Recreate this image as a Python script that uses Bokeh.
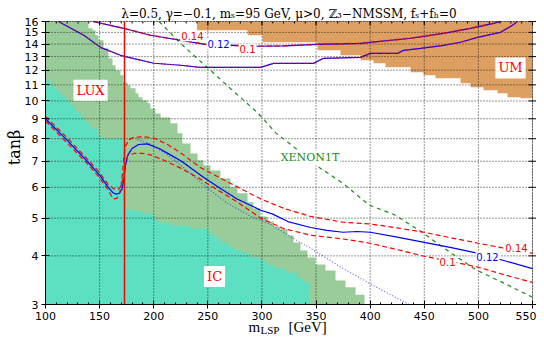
import math
from bokeh.plotting import figure
from bokeh.models import Range1d, FixedTicker, Label, BoxAnnotation
from bokeh.embed import file_html
from bokeh.resources import INLINE

# ---------------- data ----------------
x_ticks = [100, 150, 200, 250, 300, 350, 400, 450, 500, 550]
y_ticks = [3, 4, 5, 6, 7, 8, 9, 10, 11, 12, 13, 14, 15, 16]

# LUX excluded region: column start (GeV) and upper edge (tan beta)
lux_x = [100, 139.7, 143.4, 146.2, 149.0, 153.6, 158.2, 161.9, 164.7, 169.3, 172.1, 175.8,
         178.5, 183.2, 185.9, 189.6, 194.3, 197.0, 201.6, 206.3, 215.5, 222.0, 226.6, 234.0,
         240.5, 246.0, 252.5, 261.7, 270.9, 277.4, 286.7, 292.2, 298.7, 305.1, 310.7, 317.2,
         323.6, 329.2, 335.6, 342.1, 349.5, 358.7, 368.0, 377.2, 386.5]
lux_top = [16, 15.37, 15.19, 14.75, 14.32, 13.65, 12.87, 12.35, 11.99, 11.64, 11.16, 10.97,
           10.78, 10.46, 10.22, 10.04, 9.86, 9.57, 9.29, 9.07, 8.76, 8.26, 7.78, 7.33,
           7.04, 6.83, 6.63, 6.32, 6.0, 5.79, 5.49, 5.29, 5.05, 4.90, 4.76, 4.68,
           4.51, 4.33, 4.13, 3.96, 3.80, 3.67, 3.46, 3.32, 3.18]
lux_end = 394.8

# IceCube excluded region
ic_x = [100, 104.6, 109.2, 113.9, 118.5, 123.1, 127.7, 132.3, 137.0, 141.6, 148.0, 150.8,
        173.0, 176.7, 187.8, 199.8, 203.5, 215.5, 234.0, 250.6, 255.2, 261.7, 269.1, 275.6,
        282.0, 289.4, 298.7, 305.1, 312.5, 321.8, 332.9, 338.0]
ic_top = [11.29, 10.97, 10.65, 10.34, 10.04, 9.74, 9.35, 9.07, 8.81, 8.50, 8.16, 8.01,
          5.29, 5.24, 5.14, 5.0, 4.87, 4.79, 4.70, 4.57, 4.46, 4.33, 4.20, 4.13,
          4.06, 3.96, 3.89, 3.78, 3.71, 3.62, 3.50, 3.42]
ic_end = 344.0

# Unphysical-minimum region: column start and lower edge
um_x = [240, 286.7, 300.5, 351.3, 372.6, 391.1, 403.1, 414.2, 437.3, 449.3, 460.4, 483.5,
        492.7, 504.7, 517.7, 526.9, 538.9]
um_bottom = [15.19, 14.75, 14.15, 13.49, 13.10, 12.72, 12.49, 12.20, 11.85, 11.64, 11.43,
             11.10, 10.84, 10.65, 10.46, 10.22, 10.16]
um_end = 550

# high tan beta relic-density band (0.1 / 0.12 / 0.14 nearly coincide)
bandU_x = [144, 172.1, 197.0, 224.7, 247.8, 270.9, 295.9, 320, 351.3, 391.1, 437.3, 467.8, 492.7, 514.0, 520.4]
bandU_y = [16.0, 15.37, 14.75, 14.32, 13.98, 13.90, 13.82, 13.85, 13.98, 14.06, 14.49, 14.92, 15.37, 15.83, 16.0]
bandL_x = [112, 135.4, 150.8, 169.3, 181.6, 200.1, 224.7, 243.2, 298.7, 310.7, 347.6, 356.9, 391.1,
           400.3, 425.3, 430.8, 446.5, 467.8, 483.5, 499.2, 520.4, 531.5, 536.1]
bandL_y = [16.0, 14.75, 13.73, 13.10, 12.85, 12.5, 12.35, 12.20, 12.20, 12.49, 12.49, 12.87, 12.94,
           13.25, 13.25, 13.49, 13.65, 13.90, 14.15, 14.57, 15.01, 15.64, 16.0]

# low tan beta relic-density contours
c12_x = [100, 118.5, 138.5, 150, 158, 162, 165.5, 168.5, 170.8, 172.4, 174, 176, 180, 186, 194, 205,
         215, 225, 246, 262, 277, 299, 310, 324, 345, 360, 375, 388, 400, 425, 450, 475, 500, 525, 550]
c12_y = [9.0, 8.0, 7.0, 6.45, 6.0, 5.82, 5.76, 5.8, 5.95, 6.3, 6.84, 7.26, 7.55, 7.73, 7.76, 7.55,
         7.28, 7.02, 6.37, 5.95, 5.60, 5.24, 5.12, 4.90, 4.73, 4.65, 4.60, 4.62, 4.60, 4.47, 4.33,
         4.20, 4.06, 3.88, 3.71]
c14_x = [100, 118.5, 138.5, 150, 158, 161, 163, 166, 168.5, 170, 171.3, 172.5, 174, 177, 181, 190,
         200, 212, 225, 243, 268, 299, 320, 345, 375, 400, 425, 450, 475, 500, 525, 550]
c14_y = [8.88, 7.88, 6.9, 6.35, 5.9, 5.7, 5.6, 5.62, 5.8, 6.1, 6.6, 7.2, 7.65, 7.95, 8.05, 8.1,
         8.03, 7.75, 7.35, 6.75, 6.2, 5.6, 5.3, 5.05, 4.88, 4.83, 4.72, 4.6, 4.45, 4.31, 4.18, 4.06]
c10_x = [100, 118.5, 138.5, 150, 158, 163, 167.5, 170, 171.5, 173, 174.5, 176, 182, 190, 197, 209,
         225, 243, 255, 275, 299, 320, 345, 375, 400, 425, 450, 475, 500, 525, 550]
c10_y = [9.12, 8.12, 7.1, 6.55, 6.1, 5.95, 5.93, 6.05, 6.3, 6.65, 7.0, 7.25, 7.33, 7.33, 7.27, 7.05,
         6.72, 6.3, 6.0, 5.55, 5.0, 4.7, 4.52, 4.42, 4.31, 4.15, 3.99, 3.87, 3.74, 3.57, 3.42]

# blue dotted contour
dot_x = [185, 195, 205, 215, 230, 252, 268, 290, 308, 330, 350, 373, 400, 436]
dot_y = [7.95, 7.8, 7.5, 7.2, 6.65, 5.9, 5.46, 5.05, 4.82, 4.42, 4.1, 3.74, 3.39, 3.0]

# XENON1T projection
xe_x = [205, 224.7, 250, 275, 295.6, 312.8, 330, 352.9, 375, 399.1, 422, 447, 475, 498.9, 525, 550]
xe_y = [16.0, 14.06, 12.16, 10.51, 9.35, 8.28, 7.6, 6.75, 6.14, 5.4, 5.11, 4.62, 4.06, 3.67, 3.39, 3.13]

m_line = 173.0  # vertical red line (GeV)

# ---------------- colours ----------------
C_IC = "#5ddfc1"
C_LUX = "#9acc99"
C_UM = "#dda062"
RED = "#ff0000"
BLUE = "#0000ff"
GREEN = "#1a8c1a"

# ---------------- layout ----------------
W, H = 536, 335
X_LO, X_HI = x_ticks[0], x_ticks[-1]
Y_LO, Y_HI = y_ticks[0], y_ticks[-1]
BOX_L, BOX_R, BOX_T, BOX_B = 45, 532, 21, 304  # plot box in canvas pixels
PX_PER_GEV = (BOX_R - BOX_L) / (X_HI - X_LO)
PX_PER_DEC = (BOX_B - BOX_T) / math.log10(Y_HI / Y_LO)
# the frame covers the whole canvas; the axes are pinned to the box edges
X_FRAME = (X_LO - BOX_L / PX_PER_GEV, X_LO + (W - BOX_L) / PX_PER_GEV)
Y_FRAME = (Y_LO / 10 ** ((H - BOX_B) / PX_PER_DEC), Y_HI * 10 ** (BOX_T / PX_PER_DEC))


def xat(px):
    return X_LO + (px - BOX_L) / PX_PER_GEV


def yat(py):
    return Y_LO * 10 ** ((BOX_B - py) / PX_PER_DEC)


def stair(xs, ys, x_end):
    vx, vy = [], []
    for i, (x0, yv) in enumerate(zip(xs, ys)):
        x1 = xs[i + 1] if i + 1 < len(xs) else x_end
        vx += [x0, x1]
        vy += [yv, yv]
    return vx, vy


p = figure(width=W, height=H, x_range=Range1d(*X_FRAME), y_range=Range1d(*Y_FRAME),
           y_axis_type="log", output_backend="svg", toolbar_location=None,
           min_border_left=0, min_border_right=0, min_border_top=0, min_border_bottom=0)
p.background_fill_color = "white"
p.border_fill_color = "white"
p.outline_line_color = None
p.grid.visible = False

# regions
vx, vy = stair(lux_x, lux_top, lux_end)
p.patch([lux_x[0]] + vx + [lux_end], [Y_LO] + vy + [Y_LO], fill_color=C_LUX, line_color=None)
vx, vy = stair(ic_x, ic_top, ic_end)
p.patch([ic_x[0]] + vx + [ic_end], [Y_LO] + vy + [Y_LO], fill_color=C_IC, line_color=None)
vx, vy = stair(um_x, um_bottom, um_end)
p.patch([um_x[0]] + vx + [um_end], [Y_HI] + vy + [Y_HI], fill_color=C_UM, line_color=None)

# dotted grid limited to the plot box
p.segment(x0=x_ticks, y0=[Y_LO] * len(x_ticks), x1=x_ticks, y1=[Y_HI] * len(x_ticks),
          line_color="black", line_dash="1 2", line_alpha=0.8, line_width=1)
p.segment(x0=[X_LO] * len(y_ticks), y0=y_ticks, x1=[X_HI] * len(y_ticks), y1=y_ticks,
          line_color="black", line_dash="1 2", line_alpha=0.8, line_width=1)

# lines
p.line(xe_x, xe_y, line_color=GREEN, line_width=1.2, line_dash="4 4")
p.line(dot_x, dot_y, line_color=BLUE, line_width=1.2, line_dash="1 2", line_alpha=0.6)
p.line(bandU_x, bandU_y, line_color=BLUE, line_width=1.2)
p.line(bandU_x, bandU_y, line_color=RED, line_width=1.6, line_dash="5 3", line_alpha=0.75)
p.line(bandL_x, bandL_y, line_color=BLUE, line_width=1.2)
p.line(bandL_x, bandL_y, line_color=RED, line_width=1.2, line_dash="5 3", line_alpha=0.6)
p.line(c12_x, c12_y, line_color=BLUE, line_width=1.2)
p.line(c14_x, c14_y, line_color=RED, line_width=1.2, line_dash="5 3")
p.line(c10_x, c10_y, line_color=RED, line_width=1.2, line_dash="5 3")
p.line([m_line, m_line], [Y_LO, Y_HI], line_color=RED, line_width=1.5)

# plot box
p.add_layout(BoxAnnotation(left=X_LO, right=X_HI, bottom=Y_LO, top=Y_HI, fill_alpha=0,
                           line_color="black", line_width=1))

# mirrored ticks on the right and top edges of the box
p.segment(x0=[xat(BOX_R - 4)] * len(y_ticks), y0=y_ticks, x1=[xat(BOX_R + 4)] * len(y_ticks), y1=y_ticks,
          line_color="black", line_width=1)
p.segment(x0=x_ticks, y0=[Y_HI] * len(x_ticks), x1=x_ticks, y1=[yat(BOX_T + 4)] * len(x_ticks),
          line_color="black", line_width=1)
x_minor = list(range(X_LO, X_HI + 1, 10))
p.segment(x0=x_minor, y0=[Y_HI] * len(x_minor), x1=x_minor, y1=[yat(BOX_T + 2)] * len(x_minor),
          line_color="black", line_width=1)

# axes pinned to the box
for ax in p.xaxis:
    ax.ticker = FixedTicker(ticks=x_ticks, minor_ticks=x_minor)
    ax.fixed_location = Y_LO
    ax.bounds = (X_LO, X_HI)
for ax in p.yaxis:
    ax.ticker = FixedTicker(ticks=y_ticks, minor_ticks=[])
    ax.fixed_location = X_LO
    ax.bounds = (Y_LO, Y_HI)
for ax in p.xaxis + p.yaxis:
    ax.major_label_text_font = "DejaVu Sans"
    ax.major_label_text_font_size = "11px"
    ax.major_label_text_color = "black"
    ax.axis_line_color = "black"
    ax.major_tick_line_color = "black"
    ax.minor_tick_line_color = "black"
    ax.major_tick_in = 4
    ax.major_tick_out = 4
    ax.minor_tick_in = 2
    ax.minor_tick_out = 0
    ax.major_label_standoff = 3
p.yaxis.major_label_overrides = {t: str(t) for t in y_ticks}


def lab(x, y, text, color="black", size="11px", font="DejaVu Sans", bg=None, angle=0,
        align="center", baseline="middle", pad=0):
    kw = dict(x=x, y=y, text=text, text_color=color, text_font_size=size, text_font=font,
              text_align=align, text_baseline=baseline, angle=angle)
    if bg:
        kw.update(background_fill_color=bg, padding=pad)
    p.add_layout(Label(**kw))

# region labels
lab(141.6, 10.65, "LUX", RED, "13px", "DejaVu Serif", bg="white", pad=3)
lab(529.7, 12.16, "UM", RED, "13px", "DejaVu Serif", bg="white", pad=3)
lab(256.2, 3.54, "IC", RED, "13px", "DejaVu Serif", bg="white", pad=3)
lab(344.4, 7.14, "XENON1T", GREEN, "11px", "DejaVu Serif", bg="white", pad=1)

# contour labels
lab(235.8, 14.66, "0.14", RED, "10px", bg="white", pad=1)
lab(259.9, 13.98, "0.12", BLUE, "10px", bg="white", pad=1)
lab(286.7, 13.57, "0.1", RED, "10px", bg="white", pad=1)
lab(535.2, 4.19, "0.14", RED, "10px", bg="white", pad=1)
lab(508.4, 3.97, "0.12", BLUE, "10px", bg="white", pad=1)
lab(471.5, 3.86, "0.1", RED, "10px", bg="white", pad=1)

# title and axis titles
lab((X_LO + X_HI) / 2, yat(13), "λ=0.5, γ=−0.1, mₛ=95 GeV, μ>0, ℤ₃−NMSSM, fₛ+fₕ=0",
    "black", "12px", "DejaVu Serif")
lab(xat(14), yat(147), "tanβ", "black", "16px", "DejaVu Serif", angle=math.pi / 2)
lab(xat(248), yat(326), "m", "black", "15px", "Liberation Serif", align="left", baseline="alphabetic")
lab(xat(260), yat(329), "LSP", "black", "11px", "Liberation Serif", align="left", baseline="alphabetic")
lab(xat(288), yat(326), "[GeV]", "black", "15px", "Liberation Serif", align="left", baseline="alphabetic")

open("out.html", "w").write(file_html(p, INLINE))
